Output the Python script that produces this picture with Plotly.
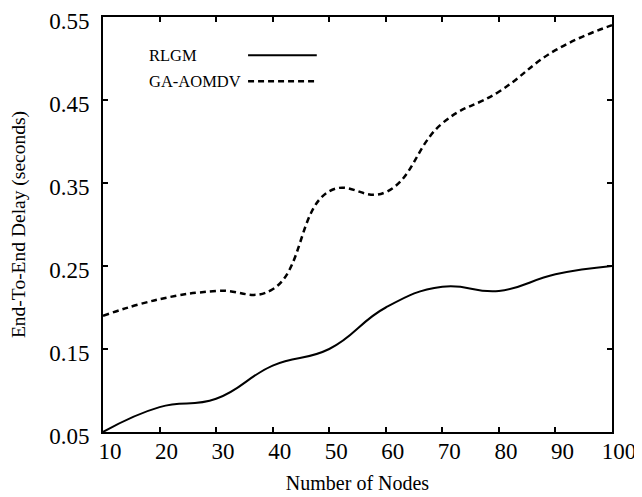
import plotly.graph_objects as go

nodes = [10, 20, 30, 40, 50, 60, 70, 80, 90, 100]
rlgm = [0.05, 0.08, 0.09, 0.13, 0.15, 0.20, 0.225, 0.22, 0.24, 0.25]
ga_aomdv = [0.19, 0.21, 0.22, 0.222, 0.34, 0.339, 0.422, 0.46, 0.51, 0.54]
y_ticks = [0.05, 0.15, 0.25, 0.35, 0.45, 0.55]
x_ticks = [10, 20, 30, 40, 50, 60, 70, 80, 90, 100]

FONT = "Liberation Serif"

fig = go.Figure()
fig.add_trace(go.Scatter(x=nodes, y=rlgm, mode="lines", name="RLGM",
                         line=dict(color="black", width=2, shape="spline", smoothing=1.3),
                         showlegend=False))
fig.add_trace(go.Scatter(x=nodes, y=ga_aomdv, mode="lines", name="GA-AOMDV",
                         line=dict(color="black", width=2.5, dash="6px,4px", shape="spline", smoothing=1.3),
                         showlegend=False))

# gnuplot-style legend: text on left, line sample on right
legend_items = [("RLGM", "solid", 2), ("GA-AOMDV", "6px,4px", 2.5)]
for i, (label, dash, w) in enumerate(legend_items):
    ypos = 0.908 - i * 0.063
    fig.add_annotation(x=0.087, y=ypos, xref="paper", yref="paper", text=label,
                       showarrow=False, xanchor="left", yanchor="middle",
                       font=dict(family=FONT, size=16.5, color="black"))
    fig.add_shape(type="line", xref="paper", yref="paper",
                  x0=0.285, x1=0.42, y0=ypos, y1=ypos,
                  line=dict(color="black", width=w, dash=dash))

axis_common = dict(showline=True, linecolor="black", linewidth=2, mirror="ticks",
                   ticks="inside", ticklen=5, tickwidth=1.5, tickcolor="black",
                   showgrid=False, zeroline=False, automargin=False,
                   ticklabeloverflow="allow",
                   tickfont=dict(family=FONT, size=23, color="black"))

fig.update_layout(
    width=634, height=489,
    margin=dict(l=95, r=30, t=9, b=65),
    plot_bgcolor="white", paper_bgcolor="white",
    xaxis=dict(range=[10, 100], tickvals=x_ticks, ticktext=[str(v) for v in x_ticks],
               ticklabelshift=7, ticklabelstandoff=-3,
               title=dict(text="Number of Nodes", font=dict(family=FONT, size=20, color="black"), standoff=13),
               **axis_common),
    yaxis=dict(range=[0.05, 0.55], tickvals=y_ticks, ticktext=[f"{v:.2f}" for v in y_ticks],
               ticklabelstandoff=7, ticklabelshift=4,
               title=dict(text="End-To-End Delay (seconds)", font=dict(family=FONT, size=19.5, color="black"), standoff=22),
               **axis_common),
)

fig.write_html("out.html")
